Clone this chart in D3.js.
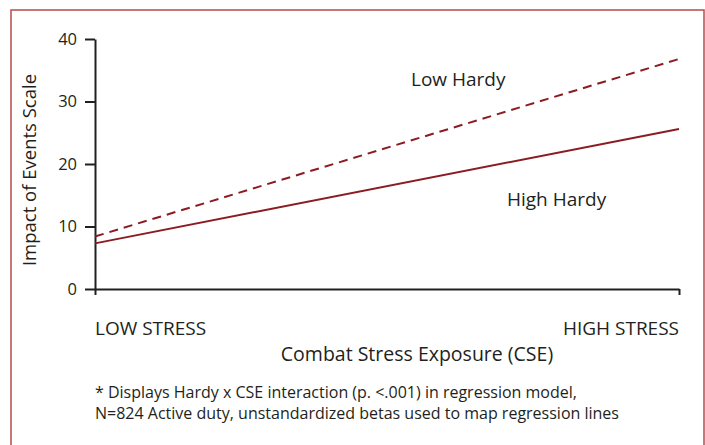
<!DOCTYPE html>
<html lang="en">
<head>
  <meta charset="UTF-8">
  <title>Hardy x CSE interaction</title>
  <style>
    body { margin: 0; background: #fff; }
    text { font-family: "Open Sans", "Noto Sans", sans-serif; fill: #231f20; }
  </style>
</head>
<body>
<div id="chart"></div>
<script src="https://d3js.org/d3.v7.min.js"></script>
<script>
// data
var stressLevels = ["LOW STRESS", "HIGH STRESS"];
var stressPos = [0, 1];
var lowHardy = [8.4, 36.8];
var highHardy = [7.3, 25.6];
var yTicks = [0, 10, 20, 30, 40];

var W = 705, H = 445;
var lineColor = "#8b1c22";

var svg = d3.select("#chart")
  .append("svg")
    .attr("width", W)
    .attr("height", H);

// red frame
svg.append("rect")
  .attr("x", 11).attr("y", 10)
  .attr("width", 693).attr("height", 460)
  .attr("fill", "none")
  .attr("stroke", "#b84a4a")
  .attr("stroke-width", 1.5);

var x = d3.scaleLinear().domain([0, 1]).range([95, 679]);
var y = d3.scaleLinear().domain([0, 40]).range([289, 39]);

var yAxis = svg.append("g")
  .attr("transform", "translate(95,0)")
  .call(d3.axisLeft(y).tickValues(yTicks).tickSize(10).tickSizeOuter(0).tickPadding(8));
yAxis.selectAll("path, line").attr("stroke", "#231f20").attr("stroke-width", 2);
yAxis.selectAll("text").style("font-size", "16.5px").attr("fill", "#231f20")
  .style("font-family", "'Open Sans', sans-serif");

var xAxis = svg.append("g")
  .attr("transform", "translate(0,289)")
  .call(d3.axisBottom(x).tickValues(stressPos).tickSize(6).tickSizeOuter(0).tickFormat(""));
xAxis.selectAll("path, line").attr("stroke", "#231f20").attr("stroke-width", 2);

var line = d3.line()
  .x(function (d, i) { return x(stressPos[i]); })
  .y(function (d) { return y(d); });

svg.append("path")
  .datum(lowHardy)
  .attr("d", line)
  .attr("fill", "none")
  .attr("stroke", lineColor)
  .attr("stroke-width", 2)
  .attr("stroke-dasharray", "9,6");

svg.append("path")
  .datum(highHardy)
  .attr("d", line)
  .attr("fill", "none")
  .attr("stroke", lineColor)
  .attr("stroke-width", 2);

// series labels
svg.append("text").attr("x", 411).attr("y", 86).style("font-size", "19px").text("Low Hardy");
svg.append("text").attr("x", 507).attr("y", 206).style("font-size", "19px").text("High Hardy");

// category labels under x axis
svg.selectAll(".cat")
  .data(stressLevels)
  .enter()
  .append("text")
    .attr("class", "cat")
    .attr("x", function (d, i) { return x(stressPos[i]); })
    .attr("y", 335)
    .attr("text-anchor", function (d, i) { return i === 0 ? "start" : "end"; })
    .style("font-size", "19px")
    .text(function (d) { return d; });

svg.append("text")
  .attr("x", 417).attr("y", 361)
  .attr("text-anchor", "middle")
  .style("font-size", "19.5px")
  .text("Combat Stress Exposure (CSE)");

svg.append("text")
  .attr("transform", "translate(36,170) rotate(-90)")
  .attr("text-anchor", "middle")
  .style("font-size", "18.5px")
  .text("Impact of Events Scale");

svg.append("text").attr("x", 95).attr("y", 398).style("font-size", "16px")
  .text("* Displays Hardy x CSE interaction (p. <.001) in regression model,");
svg.append("text").attr("x", 95).attr("y", 419).style("font-size", "16px")
  .text("N=824 Active duty, unstandardized betas used to map regression lines");
</script>
</body>
</html>
